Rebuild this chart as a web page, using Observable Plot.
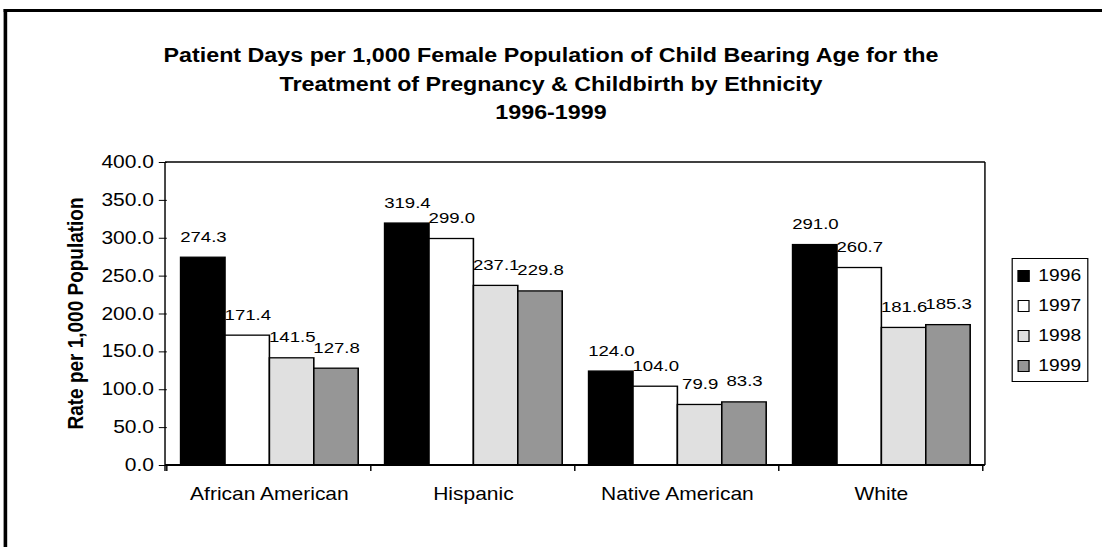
<!DOCTYPE html>
<html><head><meta charset="utf-8">
<script src="https://cdn.jsdelivr.net/npm/d3@7"></script>
<script src="https://cdn.jsdelivr.net/npm/@observablehq/plot@0.6"></script>
<style>
html,body{margin:0;padding:0;background:#fff;overflow:hidden}
body{width:1102px;height:547px;position:relative;font-family:"Liberation Sans",Arial,sans-serif;color:#000}
#stage{position:absolute;left:0;top:0;width:918.33px;height:547px;transform:scaleX(1.2);transform-origin:0 0}
#border{position:absolute;left:3.3px;top:9px;width:1000px;height:700px;border-left:3.4px solid #000;border-top:3px solid #000}
#title{position:absolute;left:0;top:41px;width:918.33px;text-align:center;font-weight:bold;font-size:19.4px;line-height:28.5px}
#chart{position:absolute;left:0;top:130px}
#legend{position:absolute;left:843.3px;top:258px;width:63.4px;height:124px;border:1px solid #000;box-sizing:border-box;background:#fff}
.row{position:absolute;left:4px;height:18px;line-height:18px;display:flex;align-items:center;font-size:16px}
.sw{width:10px;height:12px;border:1px solid #000;box-sizing:border-box;margin-right:7px;display:inline-block}
</style></head>
<body>
<div id="stage">
  <div id="border"></div>
  <div id="title">Patient Days per 1,000 Female Population of Child Bearing Age for the<br>Treatment of Pregnancy &amp; Childbirth by Ethnicity<br>1996-1999</div>
  <div id="chart"></div>
  <div id="legend"></div>
</div>
<script>
const categories = ["African American", "Hispanic", "Native American", "White"];
const years = ["1996", "1997", "1998", "1999"];
const v1996 = [274.3, 319.4, 124.0, 291.0];
const v1997 = [171.4, 299.0, 104.0, 260.7];
const v1998 = [141.5, 237.1, 79.9, 181.6];
const v1999 = [127.8, 229.8, 83.3, 185.3];
const yTicks = [0, 50, 100, 150, 200, 250, 300, 350, 400];
const colors = ["#000000", "#ffffff", "#e0e0e0", "#969696"];
const yLabel = "Rate per 1,000 Population";

const series = [v1996, v1997, v1998, v1999];
const data = categories.flatMap((c, i) => years.map((y, j) => ({cat: c, year: y, value: series[j][i]})));

const W = 1102 / 1.2, H = 400;
const mL = 137.5, mR = W - 820.8, mT = 32, mB = 65;

const plot = Plot.plot({
  width: W, height: H,
  marginLeft: mL, marginRight: mR, marginTop: mT, marginBottom: mB,
  style: {fontFamily: "'Liberation Sans', Arial, sans-serif", fontSize: "17.5px", background: "transparent", overflow: "visible", color: "#000"},
  fx: {domain: categories, paddingInner: 0, paddingOuter: 0, label: null},
  x: {domain: years, paddingInner: 0, paddingOuter: 12.5 / 45, axis: null},
  y: {domain: [0, 400], label: null},
  color: {domain: years, range: colors},
  marks: [
    Plot.axisY(yTicks, {tickFormat: d => d.toFixed(1), tickSize: 6.7, tickPadding: 4.5, label: null, stroke: "#000"}),
    Plot.axisFx({anchor: "bottom", tickSize: 0, tickPadding: 22, label: null}),
    Plot.barY(data, {fx: "cat", x: "year", y: "value", fill: "year", stroke: "#000", strokeWidth: 1.3}),
    Plot.text(data, {fx: "cat", x: "year", y: "value", text: d => d.value.toFixed(1), dy: -21, fontSize: 15.5, fill: "#000"})
  ]
});
document.getElementById("chart").appendChild(plot);

// plot-area frame, category boundary ticks and the rotated y title
const svg = d3.select(plot);
const x0 = mL, x1 = W - mR, y0 = mT, y1 = H - mB;
const g = svg.append("g").attr("fill", "none").attr("stroke", "#000");
g.append("line").attr("x1", x0).attr("x2", x1).attr("y1", y0).attr("y2", y0).attr("stroke-width", 1.4);
g.append("line").attr("x1", x1).attr("x2", x1).attr("y1", y0).attr("y2", y1).attr("stroke-width", 1.2);
g.append("line").attr("x1", x0).attr("x2", x0).attr("y1", y0).attr("y2", y1 + 6).attr("stroke-width", 1.2);
g.append("line").attr("x1", x0).attr("x2", x1).attr("y1", y1).attr("y2", y1).attr("stroke-width", 1.8);
let bounds;
try {
  const fx = plot.scale("fx");
  bounds = categories.map(c => fx.apply(c)).concat([fx.apply(categories[categories.length - 1]) + fx.bandwidth]);
} catch (e) {
  bounds = d3.range(categories.length + 1).map(i => x0 + i * (x1 - x0) / categories.length);
}
bounds.forEach(bx => g.append("line").attr("x1", bx).attr("x2", bx).attr("y1", y1).attr("y2", y1 + 6).attr("stroke-width", 1.2));
svg.append("text").attr("transform", `translate(62.5,${(y0 + y1) / 2}) rotate(-90)`)
  .attr("text-anchor", "middle").attr("dominant-baseline", "central")
  .attr("font-weight", "bold").attr("font-size", 19).attr("fill", "#000").text(yLabel);

// legend
const legend = d3.select("#legend");
years.forEach((y, i) => {
  const row = legend.append("div").attr("class", "row").style("top", (17 + 30 * i - 9) + "px");
  row.append("span").attr("class", "sw").style("background", colors[i]);
  row.append("span").text(y);
});
</script>
</body></html>
